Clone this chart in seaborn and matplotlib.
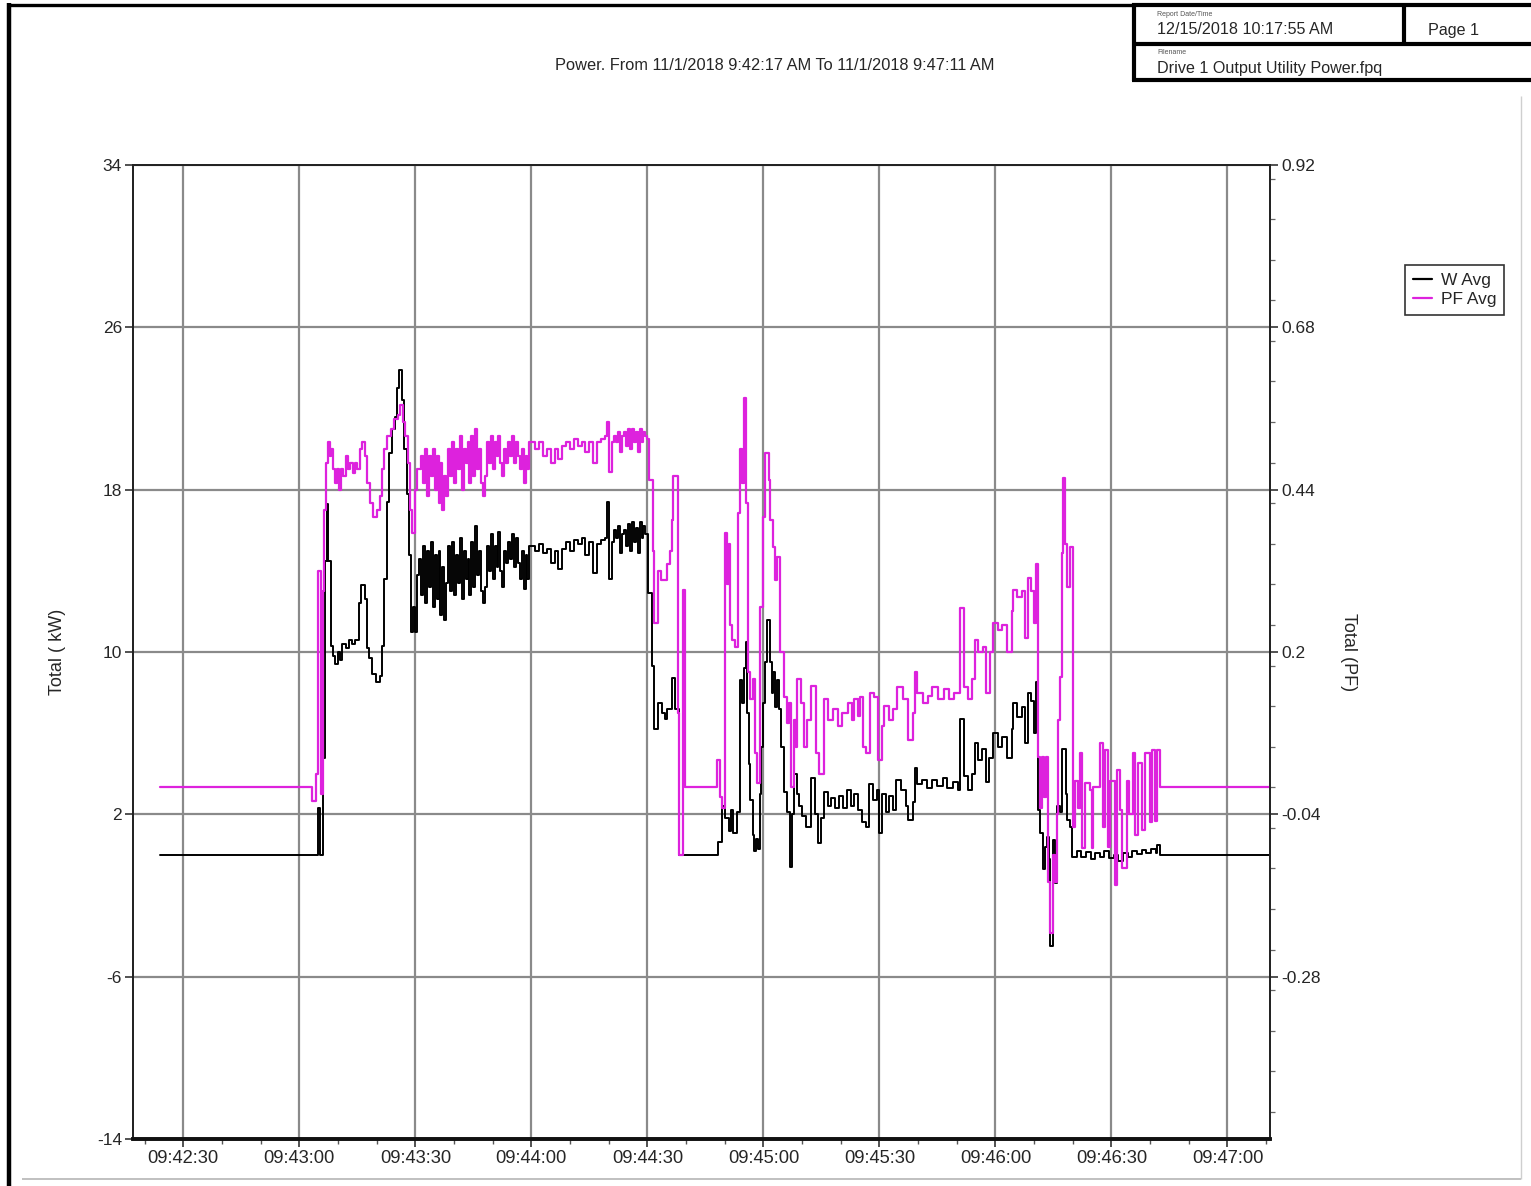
import numpy as np
import pandas as pd
import matplotlib
matplotlib.use("Agg")
import matplotlib.pyplot as plt
import seaborn as sns
from matplotlib.lines import Line2D
from matplotlib.ticker import FixedLocator, MultipleLocator

# ---------------- data (time = seconds after 09:42:17) ----------------
TITLE = "Power. From 11/1/2018 9:42:17 AM To 11/1/2018 9:47:11 AM"
X_TICK_SECONDS = [13, 43, 73, 103, 133, 163, 193, 223, 253, 283]
X_TICK_LABELS = ["09:42:30", "09:43:00", "09:43:30", "09:44:00", "09:44:30",
                 "09:45:00", "09:45:30", "09:46:00", "09:46:30", "09:47:00"]
W_TICKS = [34, 26, 18, 10, 2, -6, -14]
PF_TICKS = [0.92, 0.68, 0.44, 0.2, -0.04, -0.28]
PF_TICK_LABELS = ["0.92", "0.68", "0.44", "0.2", "-0.04", "-0.28"]

# W Avg (kW): step change points (t, value)
W_pts_start = [(7, 0.0), (47.8, 2.3), (48.4, 0.0), (49.0, 4.8), (49.7, 14.5), (50.1, 17.3),
               (50.5, 14.5), (51.1, 10.3), (51.7, 9.8), (52.3, 9.4), (53.0, 10.0), (53.5, 9.6),
               (54.1, 10.4), (55.0, 10.2), (55.8, 10.6), (56.7, 10.4), (57.5, 10.6), (58.5, 12.4),
               (59.0, 13.3), (60.0, 12.6), (60.4, 10.2), (61.0, 9.7), (61.8, 8.9), (62.8, 8.5),
               (63.8, 8.8), (64.4, 10.3), (64.9, 13.6), (65.6, 17.4), (66.3, 19.8), (67.0, 21.0),
               (67.7, 21.6), (68.2, 23.0), (68.8, 23.9), (69.5, 22.4), (70.2, 20.0), (70.8, 17.8),
               (71.4, 14.8), (71.9, 11.0), (72.4, 12.2), (72.9, 11.0), (73.4, 13.8)]
# half-second samples from t=74.0
W_noisy_1 = [14.6, 12.8, 15.2, 12.4, 15.0, 13.2, 15.4, 12.2, 14.8, 12.6, 15.0, 11.8, 14.2, 11.6, 13.4,
             15.2, 13.0, 15.4, 12.8, 14.8, 13.4, 15.6, 12.6, 15.0, 13.6, 14.6, 12.8, 15.4, 13.2, 16.2,
             13.8, 15.0, 13.0, 12.4, 13.2, 15.2, 14.0, 15.8, 13.6, 15.2, 14.2, 15.9, 14.0, 13.2, 15.0,
             14.4, 15.4, 14.6, 15.8, 14.2, 15.6, 14.4, 13.6, 15.0, 13.1, 14.8, 13.6, 15.2]
# one-second samples from t=103
W_noisy_2 = [15.2, 15.0, 15.3, 14.9, 15.1, 14.4, 15.0, 14.1, 15.1, 15.4,
             15.0, 15.5, 15.3, 15.6, 14.8, 15.4, 13.9, 15.3, 15.5, 15.6]
W_pts_mid = [(122.5, 17.4), (123.2, 13.6), (123.8, 15.4)]
# half-second samples from t=124.5
W_noisy_3 = [16.0, 15.6, 16.2, 14.9, 15.8, 16.0, 15.2, 16.3, 15.0, 16.4, 15.4, 16.1, 14.9, 16.4,
             15.6, 16.2, 15.8]
W_pts_end = [(133.2, 12.9), (134.3, 9.3), (134.6, 6.2), (135.8, 7.5), (136.8, 7.0), (137.6, 6.7),
             (138.2, 7.2), (139.4, 8.7), (140.2, 7.2), (141.1, 0.0), (151.3, 0.65), (152.2, 2.4),
             (153.0, 1.8), (154.0, 1.2), (154.6, 2.2), (155.2, 1.1), (156.2, 2.1), (156.9, 8.6),
             (157.5, 7.5), (158.0, 9.2), (158.4, 10.5), (158.8, 7.0), (159.2, 4.5), (159.6, 2.7),
             (160.2, 1.0), (160.6, 0.2), (161.0, 0.8), (161.5, 0.3), (162.0, 3.0), (162.5, 5.3),
             (163.0, 7.5), (163.5, 9.5), (164.0, 11.6), (164.6, 9.5), (165.2, 8.0), (165.6, 9.0),
             (166.0, 7.3), (166.5, 8.6), (167.0, 7.2), (167.6, 5.3), (168.3, 3.1), (169.2, 2.1),
             (169.8, -0.6), (170.4, 2.0), (171.0, 4.0), (171.6, 3.0), (172.2, 2.4), (173.0, 1.9),
             (174.0, 1.4), (175.4, 3.8), (176.4, 2.0), (177.0, 0.6), (178.0, 1.8), (178.8, 3.1),
             (179.6, 2.4), (180.6, 2.8), (181.6, 2.3), (182.6, 2.9), (183.6, 2.3), (184.6, 3.2),
             (185.6, 2.4), (186.4, 3.0), (187.4, 2.2), (188.4, 1.6), (189.6, 1.4), (190.4, 3.5),
             (191.4, 2.7), (192.4, 3.2), (192.8, 1.1), (193.8, 3.0), (194.6, 2.1), (195.6, 2.9),
             (196.6, 2.2), (197.4, 3.7), (198.6, 3.2), (199.8, 2.4), (200.4, 1.7), (201.6, 2.6),
             (202.2, 4.3), (202.8, 3.5), (204.0, 3.7), (205.4, 3.3), (206.6, 3.7), (208.0, 3.4),
             (209.4, 3.8), (210.6, 3.3), (212.0, 3.6), (213.4, 3.2), (213.9, 6.7), (214.8, 3.9),
             (215.8, 3.2), (217.0, 4.0), (217.7, 5.5), (218.6, 4.7), (219.6, 5.2), (220.6, 3.6),
             (221.4, 4.8), (222.4, 6.0), (223.6, 5.3), (224.8, 5.8), (226.0, 4.8), (227.2, 6.2),
             (227.6, 7.5), (228.6, 6.8), (229.8, 7.3), (230.7, 5.5), (231.4, 8.0), (232.2, 7.6),
             (233.0, 6.0), (233.4, 8.5), (234.0, 2.2), (234.6, 1.1), (235.2, -0.7), (235.8, 0.4),
             (236.4, 0.9), (236.9, -0.2), (237.2, -4.5), (237.8, 0.75), (238.4, -1.4), (239.0, 2.4),
             (239.6, 2.1), (240.2, 5.2), (241.2, 3.0), (241.6, 1.7), (242.3, 1.4), (242.9, -0.1),
             (244.0, 0.2), (245.2, -0.1), (246.4, 0.15), (247.6, -0.2), (248.8, 0.1), (250.0, -0.1),
             (251.2, 0.2), (252.4, -0.15), (253.6, 0.0), (254.8, -0.3), (256.0, 0.1), (257.2, -0.1),
             (258.4, 0.2), (259.6, 0.05), (260.8, 0.25), (262.0, 0.1), (263.2, 0.3), (264.4, 0.1),
             (264.9, 0.5), (265.6, 0.0), (294, 0.0)]

# PF Avg: step change points (t, value)
PF_pts_start = [(7, 0.0), (46.4, -0.02), (47.2, 0.02), (47.9, 0.32), (48.5, -0.01), (49.0, 0.29),
                (49.5, 0.41), (50.0, 0.48), (50.4, 0.51), (50.9, 0.49), (51.3, 0.50), (51.7, 0.47),
                (52.3, 0.45), (52.8, 0.47), (53.3, 0.44), (53.8, 0.47), (54.4, 0.46), (55.0, 0.49),
                (55.6, 0.47), (56.2, 0.48), (56.8, 0.465), (57.4, 0.48), (58.0, 0.47), (58.6, 0.50),
                (59.2, 0.51), (60.0, 0.49), (60.6, 0.45), (61.2, 0.42), (62.0, 0.40), (63.0, 0.41),
                (63.8, 0.43), (64.4, 0.47), (65.0, 0.50), (65.6, 0.52), (66.6, 0.53), (67.6, 0.545),
                (68.4, 0.55), (69.0, 0.565), (69.8, 0.54), (70.4, 0.52), (71.0, 0.48), (71.6, 0.41),
                (72.2, 0.376), (72.8, 0.44), (73.4, 0.47)]
PF_noisy_1 = [0.47, 0.49, 0.45, 0.50, 0.43, 0.49, 0.46, 0.50, 0.44, 0.49, 0.42, 0.48, 0.41, 0.46, 0.43,
              0.50, 0.46, 0.51, 0.45, 0.50, 0.47, 0.52, 0.44, 0.50, 0.48, 0.51, 0.45, 0.52, 0.46, 0.53,
              0.47, 0.50, 0.45, 0.43, 0.46, 0.51, 0.48, 0.52, 0.47, 0.51, 0.49, 0.52, 0.48, 0.46, 0.50,
              0.48, 0.51, 0.49, 0.52, 0.48, 0.51, 0.49, 0.47, 0.50, 0.45, 0.49, 0.47, 0.51]
PF_noisy_2 = [0.51, 0.50, 0.51, 0.49, 0.50, 0.48, 0.50, 0.485, 0.505, 0.51,
              0.50, 0.515, 0.505, 0.51, 0.495, 0.51, 0.48, 0.51, 0.515, 0.52]
PF_pts_mid = [(122.5, 0.54), (123.2, 0.466), (123.8, 0.51)]
PF_noisy_3 = [0.52, 0.51, 0.525, 0.495, 0.52, 0.525, 0.505, 0.53, 0.50, 0.53, 0.51, 0.525, 0.495,
              0.53, 0.51, 0.525, 0.52]
PF_pts_end = [(133.0, 0.515), (133.3, 0.455), (134.4, 0.35), (134.7, 0.243), (135.8, 0.32),
              (136.4, 0.307), (137.4, 0.306), (138.1, 0.33), (138.8, 0.35), (139.4, 0.395),
              (139.7, 0.46), (140.9, 0.11), (141.2, -0.10), (142.2, 0.292), (142.8, 0.0),
              (151.0, 0.04), (151.8, -0.014), (152.4, -0.03), (153.1, 0.376), (153.6, 0.30),
              (154.0, 0.36), (154.4, 0.24), (154.9, 0.218), (155.6, 0.208), (156.5, 0.406),
              (157.0, 0.50), (157.5, 0.45), (158.0, 0.576), (158.4, 0.42), (159.0, 0.17),
              (159.6, 0.13), (160.3, 0.16), (160.8, 0.05), (161.3, 0.006), (162.1, 0.267),
              (162.9, 0.40), (163.4, 0.494), (164.4, 0.455), (164.8, 0.395), (165.5, 0.355),
              (166.0, 0.306), (166.5, 0.34), (167.3, 0.20), (168.3, 0.134), (169.0, 0.095),
              (169.6, 0.125), (170.2, 0.0), (170.8, 0.10), (171.4, 0.06), (171.8, 0.16),
              (172.6, 0.125), (173.4, 0.06), (174.4, 0.10), (175.4, 0.15), (176.6, 0.05),
              (177.4, 0.02), (178.8, 0.13), (179.8, 0.10), (181.0, 0.115), (182.2, 0.09),
              (183.4, 0.11), (184.8, 0.125), (185.8, 0.10), (186.4, 0.13), (187.4, 0.105),
              (188.0, 0.134), (188.8, 0.06), (189.6, 0.05), (190.6, 0.14), (191.6, 0.134),
              (192.6, 0.04), (193.6, 0.09), (194.2, 0.12), (195.4, 0.10), (196.6, 0.115),
              (197.6, 0.148), (199.2, 0.13), (200.4, 0.07), (201.6, 0.11), (202.2, 0.17),
              (202.8, 0.14), (204.2, 0.125), (205.6, 0.135), (206.6, 0.148), (208.2, 0.13),
              (209.6, 0.145), (211.0, 0.13), (212.4, 0.14), (213.9, 0.265), (214.8, 0.148),
              (215.8, 0.13), (217.0, 0.16), (217.7, 0.218), (218.6, 0.20), (219.8, 0.208),
              (220.6, 0.14), (221.6, 0.20), (222.4, 0.243), (223.6, 0.233), (224.8, 0.24),
              (226.0, 0.20), (227.2, 0.26), (227.6, 0.292), (228.6, 0.282), (229.8, 0.29),
              (230.7, 0.22), (231.4, 0.31), (232.2, 0.29), (233.0, 0.243), (233.6, 0.33),
              (234.0, 0.045), (234.6, -0.03), (235.0, 0.045), (235.6, -0.014), (236.0, 0.045),
              (236.6, -0.14), (237.0, -0.215), (237.9, -0.10), (238.5, -0.14), (238.9, -0.04),
              (239.2, 0.10), (239.7, 0.163), (240.2, 0.346), (240.5, 0.457), (241.0, 0.36),
              (241.6, 0.296), (242.3, 0.355), (243.1, -0.058), (243.6, 0.01), (244.4, -0.03),
              (244.9, 0.05), (245.4, -0.09), (246.2, 0.006), (247.5, -0.004), (248.0, -0.09),
              (248.3, 0.0), (250.1, 0.065), (250.8, -0.058), (251.4, 0.055), (252.1, -0.088),
              (252.7, 0.01), (253.9, -0.144), (254.5, 0.026), (255.2, -0.033), (255.8, -0.12),
              (257.0, 0.01), (257.6, -0.04), (258.6, 0.05), (259.1, -0.07), (259.9, 0.036),
              (260.9, -0.063), (261.7, 0.05), (263.0, -0.052), (263.5, 0.055), (264.3, -0.05),
              (264.8, 0.055), (265.6, 0.0), (294, 0.0)]


def assemble(pieces):
    ts, vs = [], []
    for p in pieces:
        if p[0] == "pts":
            for t, v in p[1]:
                ts.append(t)
                vs.append(v)
        else:
            _, start, step, vals = p
            for i, v in enumerate(vals):
                ts.append(start + i * step)
                vs.append(v)
    return pd.DataFrame({"t": ts, "v": vs})


dfW = assemble([("pts", W_pts_start), ("blk", 74.0, 0.5, W_noisy_1), ("blk", 103.0, 1.0, W_noisy_2),
                ("pts", W_pts_mid), ("blk", 124.5, 0.5, W_noisy_3), ("pts", W_pts_end)])
dfP = assemble([("pts", PF_pts_start), ("blk", 74.0, 0.5, PF_noisy_1), ("blk", 103.0, 1.0, PF_noisy_2),
                ("pts", PF_pts_mid), ("blk", 124.5, 0.5, PF_noisy_3), ("pts", PF_pts_end)])

# ---------------- style ----------------
sns.set_style("ticks")
plt.rcParams["font.family"] = ["Liberation Sans", "DejaVu Sans"]

W_COLOR = "black"
PF_COLOR = "#DD22DD"
GRID_COLOR = "#8a8a8a"
FW, FH = 1531, 1186

fig = plt.figure(figsize=(FW / 100, FH / 100), dpi=100)
fig.patch.set_facecolor("white")
ax = fig.add_axes([133 / FW, 1 - 1139 / FH, 1137 / FW, 974 / FH])

sns.lineplot(data=dfW, x="t", y="v", ax=ax, color=W_COLOR, lw=1.4, drawstyle="steps-post",
             estimator=None, sort=False, legend=False)
ax.set_xlim(0, 294)
ax.set_ylim(-14, 34)
ax.set_yticks(W_TICKS)
ax.set_yticklabels([str(v) for v in W_TICKS])
ax.set_xticks(X_TICK_SECONDS)
ax.set_xticklabels(X_TICK_LABELS)
ax.xaxis.set_minor_locator(FixedLocator(list(range(3, 294, 10))))
ax.grid(True, which="major", color=GRID_COLOR, lw=1.6)
ax.set_axisbelow(True)
ax.tick_params(axis="y", which="major", labelsize=12.5, length=6, width=1.2, pad=2,
               direction="out", color="#333333")
ax.tick_params(axis="x", which="major", labelsize=13.2, length=6, width=1.2, pad=2,
               direction="out", color="#333333")
ax.tick_params(axis="x", which="minor", length=3.5, width=1.0, color="#555555")
ax.set_xlabel("")
ax.set_ylabel("Total ( kW)", fontsize=13, va="center", ha="center")
ax.yaxis.set_label_coords((57 - 133) / 1137, 0.5)

ax2 = ax.twinx()
sns.lineplot(data=dfP, x="t", y="v", ax=ax2, color=PF_COLOR, lw=1.6, drawstyle="steps-post",
             estimator=None, sort=False, legend=False)
ax2.set_ylim(-0.52, 0.92)
ax2.set_xlim(0, 294)
ax2.set_yticks(PF_TICKS)
ax2.set_yticklabels(PF_TICK_LABELS)
ax2.yaxis.set_minor_locator(MultipleLocator(0.06))
ax2.tick_params(axis="y", which="major", labelsize=12.5, length=6, width=1.2, pad=2, color="#333333")
ax2.tick_params(axis="y", which="minor", length=3.5, width=0.9, color="#666666")
ax2.grid(False)
ax2.set_ylabel("Total (PF)", fontsize=13, rotation=270, va="center", ha="center")
ax2.yaxis.set_label_coords((1348 - 133) / 1137, 0.5)

for a in (ax, ax2):
    for side in ("left", "right", "top"):
        a.spines[side].set_color("#222222")
        a.spines[side].set_linewidth(1.3)
    a.spines["bottom"].set_color("#111111")
    a.spines["bottom"].set_linewidth(2.6)

fig.suptitle(TITLE, fontsize=11.8, x=775 / FW, y=1 - 65 / FH, va="center", ha="center")

# legend
handles = [Line2D([], [], color=W_COLOR, lw=1.6), Line2D([], [], color=PF_COLOR, lw=1.6)]
leg = fig.legend(handles, ["W Avg", "PF Avg"], loc="upper left",
                 bbox_to_anchor=(1405 / FW, 1 - 265 / FH), bbox_transform=fig.transFigure,
                 borderaxespad=0, fontsize=12.5, handlelength=1.1, handletextpad=0.5,
                 labelspacing=0.25, borderpad=0.45, frameon=True, fancybox=False)
leg.get_frame().set_edgecolor("black")
leg.get_frame().set_linewidth(1.2)


# ---------------- page decorations ----------------
def px_line(x1, y1, x2, y2, color="black", lw=1.0):
    fig.add_artist(Line2D([x1 / FW, x2 / FW], [1 - y1 / FH, 1 - y2 / FH],
                          transform=fig.transFigure, color=color, lw=lw, solid_capstyle="butt"))


px_line(9, 3, 9, FH, lw=3.2)                  # page left border
px_line(7, 5, 1134, 5, lw=2.4)                # page top border
px_line(1134, 3, 1134, 81, lw=3.0)            # header box left
px_line(1132, 5, FW, 5, lw=3.0)               # header top
px_line(1132, 44, FW, 44, lw=3.0)             # header divider
px_line(1132, 80, FW, 80, lw=3.0)             # header bottom
px_line(1404, 5, 1404, 44, lw=3.0)            # header vertical divider
px_line(22, 1179, 1521, 1179, color="#bbbbbb", lw=1.3)
px_line(1521, 96, 1521, 1179, color="#cfcfcf", lw=1.0)

fig.text(1157 / FW, 1 - 15 / FH, "Report Date/Time", fontsize=5, color="#555555", va="center")
fig.text(1157 / FW, 1 - 30 / FH, "12/15/2018 10:17:55 AM", fontsize=11.6, va="center")
fig.text(1428 / FW, 1 - 30 / FH, "Page 1", fontsize=11.6, va="center")
fig.text(1157 / FW, 1 - 53 / FH, "Filename", fontsize=5, color="#555555", va="center")
fig.text(1157 / FW, 1 - 68 / FH, "Drive 1 Output Utility Power.fpq", fontsize=11.6, va="center")

fig.savefig("out.png", dpi=100, facecolor="white")
